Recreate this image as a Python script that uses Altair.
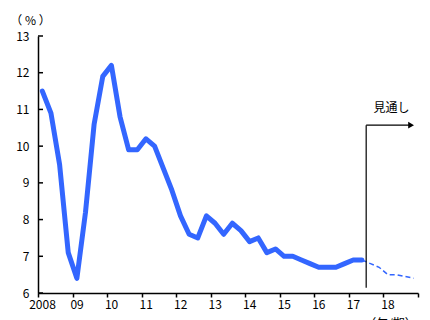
import altair as alt
import pandas as pd

# Quarterly series (%), 2008Q1 - 2017Q2 actuals
actual_years = [2008] * 4 + [2009] * 4 + [2010] * 4 + [2011] * 4 + [2012] * 4 + \
    [2013] * 4 + [2014] * 4 + [2015] * 4 + [2016] * 4 + [2017] * 2
actual_quarters = [1, 2, 3, 4] * 9 + [1, 2]
actual_values = [
    11.5, 10.9, 9.5, 7.1,
    6.4, 8.2, 10.6, 11.9,
    12.2, 10.8, 9.9, 9.9,
    10.2, 10.0, 9.4, 8.8,
    8.1, 7.6, 7.5, 8.1,
    7.9, 7.6, 7.9, 7.7,
    7.4, 7.5, 7.1, 7.2,
    7.0, 7.0, 6.9, 6.8,
    6.7, 6.7, 6.7, 6.8,
    6.9, 6.9,
]

# Outlook, 2017Q2 - 2018Q4
outlook_years = [2017, 2017, 2017, 2018, 2018, 2018, 2018]
outlook_quarters = [2, 3, 4, 1, 2, 3, 4]
outlook_values = [6.9, 6.8, 6.7, 6.5, 6.5, 6.45, 6.4]

year_ticks = list(range(2008, 2020))
year_labels = {2008: "2008"}
for y in range(2009, 2019):
    year_labels[y] = f"{y % 100:02d}"
year_labels[2019] = ""

pct_ticks = [6, 7, 8, 9, 10, 11, 12, 13]

# Outlook marker geometry (data units)
outlook_start = 2017.5
outlook_arrow_end = 2018.8
outlook_arrow_level = 10.57
outlook_base = 6.14
outlook_text = "見通し"

FONT = "Noto Sans CJK JP"
BLUE = "#3366ff"


def to_frame(years, quarters, values):
    df = pd.DataFrame({"year": years, "q": quarters, "value": values})
    df["t"] = df["year"] + (df["q"] - 0.5) / 4
    return df


actual = to_frame(actual_years, actual_quarters, actual_values)
outlook = to_frame(outlook_years, outlook_quarters, outlook_values)

label_expr = "{" + ", ".join(f"'{k}': '{v}'" for k, v in year_labels.items()) + "}[datum.value]"

x_scale = alt.Scale(domain=[2008, 2019], nice=False, zero=False)
y_scale = alt.Scale(domain=[6, 13], nice=False, zero=False)

x_axis = alt.Axis(
    values=year_ticks, labelExpr=label_expr, grid=False, labelOverlap=False,
    domainColor="black", domainWidth=1.5, tickColor="black", tickWidth=1.5,
    tickSize=4, labelFont=FONT, labelFontSize=12, labelColor="black",
    labelOffset=4, labelPadding=2, labelFlush=False,
    title="（年/期）", titleFont=FONT, titleFontSize=12, titleFontWeight="normal",
    titleColor="black", titleX=352, titleY=25, titleAlign="center", titleBaseline="top",
)
# y ticks point into the plot, so they are drawn as a separate rule layer
y_axis = alt.Axis(
    values=pct_ticks, grid=False, labelOverlap=False, ticks=False,
    domainColor="black", domainWidth=1.5,
    labelFont=FONT, labelFontSize=12, labelColor="black",
    labelPadding=9, labelFlush=False,
    title="（ % ）", titleFont=FONT, titleFontSize=12, titleFontWeight="normal",
    titleColor="black", titleAngle=0, titleX=-8, titleY=-16,
    titleAlign="center", titleBaseline="middle",
)


def X(field):
    return alt.X(field, scale=x_scale, axis=x_axis)


def Y(field):
    return alt.Y(field, scale=y_scale, axis=y_axis)


actual_line = alt.Chart(actual).mark_line(
    color=BLUE, strokeWidth=5, strokeCap="round", strokeJoin="round"
).encode(x=X("t:Q"), y=Y("value:Q"))

outlook_line = alt.Chart(outlook).mark_line(
    color=BLUE, strokeWidth=1.5, strokeDash=[5, 3]
).encode(x=X("t:Q"), y=Y("value:Q"))

y_tick_marks = alt.Chart(pd.DataFrame({"v": pct_ticks})).mark_rule(
    color="black", strokeWidth=1.5
).encode(x=alt.value(0), x2=alt.value(5), y=Y("v:Q"))

marker = pd.DataFrame({
    "x": [outlook_start], "x2": [outlook_arrow_end],
    "lo": [outlook_base], "hi": [outlook_arrow_level],
})
vrule = alt.Chart(marker).mark_rule(color="black", strokeWidth=1.2).encode(
    x=X("x:Q"), y=Y("lo:Q"), y2="hi:Q"
)
hrule = alt.Chart(marker).mark_rule(color="black", strokeWidth=1.2).encode(
    x=X("x:Q"), x2="x2:Q", y=Y("hi:Q")
)
head = alt.Chart(marker).mark_point(
    shape="triangle-right", filled=True, color="black", size=45, opacity=1
).encode(x=X("x2:Q"), y=Y("hi:Q"))

label = alt.Chart(pd.DataFrame({"x": [2018.23], "y": [11.03], "text": [outlook_text]})).mark_text(
    font=FONT, fontSize=12, color="black", align="center", baseline="middle"
).encode(x=X("x:Q"), y=Y("y:Q"), text="text:N")

chart = alt.layer(
    actual_line, outlook_line, y_tick_marks, vrule, hrule, head, label
).properties(
    width=380, height=257,
    autosize=alt.AutoSizeParams(type="none"),
    padding={"left": 38, "top": 36, "right": 12, "bottom": 27},
).configure(background="white").configure_view(stroke="transparent", strokeWidth=0)

chart.save("out.html", embed_options={"renderer": "svg", "actions": False})
